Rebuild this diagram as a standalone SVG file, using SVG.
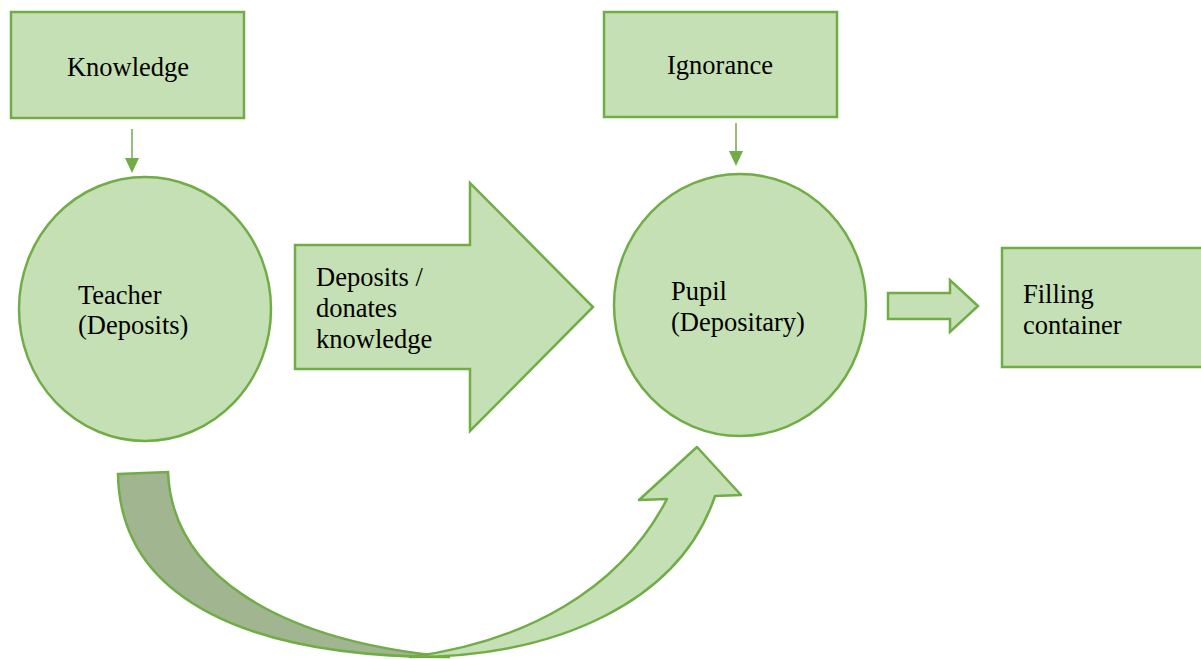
<svg xmlns="http://www.w3.org/2000/svg" width="1201" height="659" viewBox="0 0 1201 659">
<style>
.s{fill:#c5e0b4;stroke:#70ad47;stroke-width:2.5}
.t{font-family:"Liberation Serif","Times New Roman",serif;font-size:26.5px;fill:#000}
.c{stroke:#70ad47;stroke-width:1.5;fill:none}
.h{fill:#70ad47}
</style>
<rect width="1201" height="659" fill="#fff"/>
<g id="knowledge"><rect class="s" x="11" y="12" width="233" height="106"/><text class="t" x="128" y="76" text-anchor="middle">Knowledge</text></g>
<g id="ignorance"><rect class="s" x="604" y="12" width="233" height="105"/><text class="t" x="720" y="74" text-anchor="middle">Ignorance</text></g>
<g id="teacher"><ellipse class="s" cx="145" cy="309" rx="126" ry="132"/><text class="t" x="78" y="304">Teacher</text><text class="t" x="78" y="334">(Deposits)</text></g>
<g id="pupil"><ellipse class="s" cx="740" cy="305" rx="126" ry="131"/><text class="t" x="671" y="300">Pupil</text><text class="t" x="671" y="331">(Depositary)</text></g>
<g id="deposits"><path class="s" d="M295,245 L470,245 L470,183 L593,307 L470,431 L470,369 L295,369 Z"/><text class="t" x="316" y="286">Deposits /</text><text class="t" x="316" y="317">donates</text><text class="t" x="316" y="348">knowledge</text></g>
<g id="filling"><rect class="s" x="1002" y="248" width="202" height="119"/><text class="t" x="1023" y="303">Filling</text><text class="t" x="1023" y="334">container</text></g>
<g id="connectors">
<line class="c" x1="132" y1="129" x2="132" y2="162"/><polygon class="h" points="125,158 139,158 132,173"/>
<line class="c" x1="736" y1="123" x2="736" y2="155"/><polygon class="h" points="729,151 743,151 736,166"/>
<path class="s" d="M888,293 L950,293 L950,280 L978,306 L950,332 L950,319 L888,319 Z"/>
<path fill="#a0b590" stroke="#70ad47" stroke-width="2.5" d="M118,474 L168,472 C172,570 270,640 450,657 C250,658 120,600 118,474 Z"/>
<path class="s" stroke-linejoin="round" d="M410,657 C525,642 620,590 667,499 L639,500 L697,447 L741,495 L715,496 C680,600 560,657 410,657 Z"/>
</g>
</svg>
